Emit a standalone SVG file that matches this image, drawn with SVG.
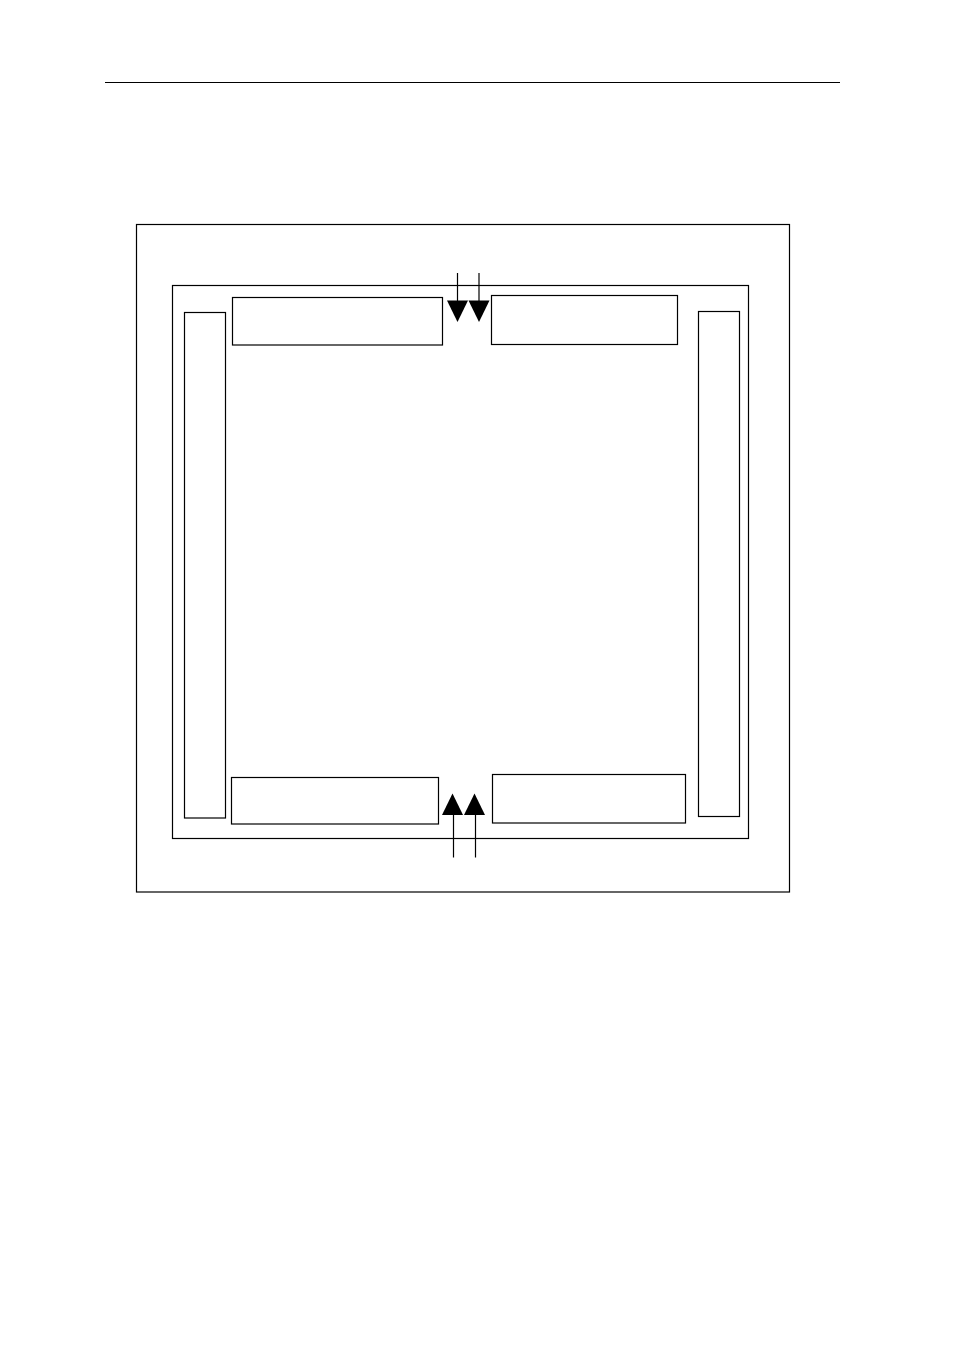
<svg xmlns="http://www.w3.org/2000/svg" width="954" height="1351" viewBox="0 0 954 1351">
<style>
.b{fill:none;stroke:#000;stroke-width:1.2}
.c{stroke:#000;stroke-width:1.2;fill:none}
.h{fill:#000;stroke:none}
</style>
<rect width="954" height="1351" fill="#fff"/>
<line x1="105" y1="82.5" x2="840" y2="82.5" class="c"/>
<g id="outer"><rect class="b" x="136.5" y="224.5" width="653" height="667.5"/></g>
<g id="inner"><rect class="b" x="172.5" y="285.5" width="576" height="553"/></g>
<g id="left-bar"><rect class="b" x="184.5" y="312.5" width="41" height="505.5"/></g>
<g id="right-bar"><rect class="b" x="698.5" y="311.5" width="41" height="505"/></g>
<g id="top-left"><rect class="b" x="232.5" y="297.5" width="210" height="47.5"/></g>
<g id="top-right"><rect class="b" x="491.5" y="295.5" width="186" height="49"/></g>
<g id="bottom-left"><rect class="b" x="231.5" y="777.5" width="207" height="46.5"/></g>
<g id="bottom-right"><rect class="b" x="492.5" y="774.5" width="193" height="48.5"/></g>
<g id="connectors">
<line class="c" x1="457.5" y1="273" x2="457.5" y2="301"/>
<line class="c" x1="479" y1="273" x2="479" y2="301"/>
<polygon class="h" points="447,300.5 468,300.5 457.5,322"/>
<polygon class="h" points="468.5,300.5 489.5,300.5 479,322"/>
<line class="c" x1="453.5" y1="814" x2="453.5" y2="857.5"/>
<line class="c" x1="475.5" y1="814" x2="475.5" y2="857.5"/>
<polygon class="h" points="442,815 463,815 452.5,793.5"/>
<polygon class="h" points="464,815 485,815 474.5,793.5"/>
</g>
</svg>
